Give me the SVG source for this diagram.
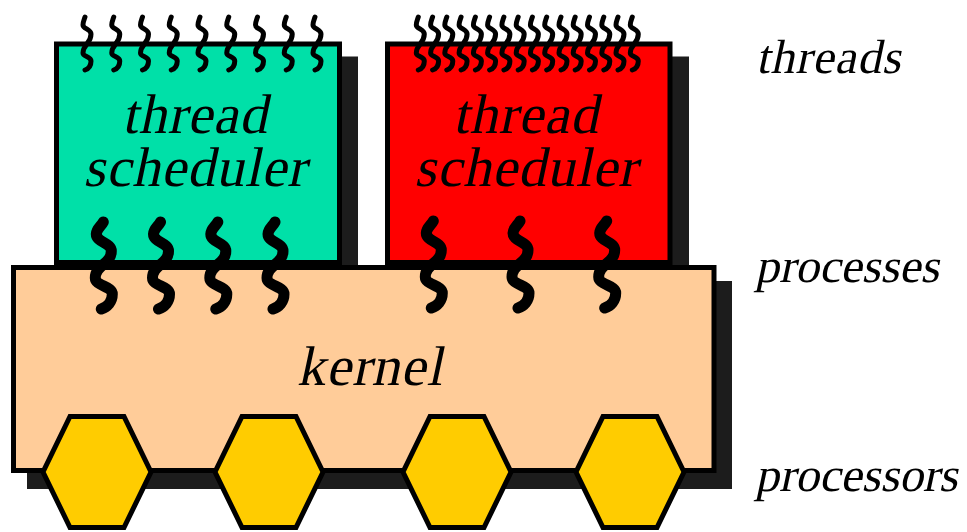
<svg xmlns="http://www.w3.org/2000/svg" width="967" height="532" viewBox="0 0 967 532">
<defs>
<path id="sSmall" d="M0,0 C-1,3 -2,5 -2,8 C-2,12 6,12 6,17 C6,27 -2,27 -2,36 C-2,40 6,39 6,44 C6,49 3,52 0,53" fill="none" stroke="#000" stroke-width="5" stroke-linecap="round"/>
<path id="sBig" d="M0,0 C-2,4 -7,7 -7,12 C-7,20.5 8,20.5 8,29 C8,42.5 -8,42.5 -8,56 C-8,64 9,64 9,72 C9,80 4,85 -2,87" fill="none" stroke="#000" stroke-width="11" stroke-linecap="round"/>
<polygon id="hexShape" points="-27,-55.5 27,-55.5 54,0 27,55.5 -27,55.5 -54,0" fill="#ffcc00" stroke="#000" stroke-width="5"/>
</defs>
<rect width="967" height="532" fill="#fff"/>
<g id="green-scheduler">
<rect x="70" y="56.5" width="288" height="224.5" fill="#1c1c1c"/>
<rect x="56.5" y="44" width="283" height="218.5" fill="#00e0a8" stroke="#000" stroke-width="5"/>
<text transform="translate(195,133) skewX(-12)" x="0" y="0" font-family="'Liberation Serif', Tinos, 'Times New Roman', serif" font-size="56" letter-spacing="1" text-anchor="middle">thread</text>
<text transform="translate(195,186) skewX(-12)" x="0" y="0" font-family="'Liberation Serif', Tinos, 'Times New Roman', serif" font-size="56" letter-spacing="1" text-anchor="middle">scheduler</text>
</g>
<g id="red-scheduler">
<rect x="401" y="56.5" width="288" height="224.5" fill="#1c1c1c"/>
<rect x="387.5" y="44" width="282.5" height="218.5" fill="#ff0000" stroke="#000" stroke-width="5"/>
<text transform="translate(526,133) skewX(-12)" x="0" y="0" font-family="'Liberation Serif', Tinos, 'Times New Roman', serif" font-size="56" letter-spacing="1" text-anchor="middle">thread</text>
<text transform="translate(526,186) skewX(-12)" x="0" y="0" font-family="'Liberation Serif', Tinos, 'Times New Roman', serif" font-size="56" letter-spacing="1" text-anchor="middle">scheduler</text>
</g>
<g id="kernel">
<rect x="27" y="281" width="705" height="208" fill="#1c1c1c"/>
<rect x="13.5" y="267.5" width="700.5" height="203" fill="#ffcc99" stroke="#000" stroke-width="5"/>
<text transform="translate(370,385) skewX(-12)" x="0" y="0" font-family="'Liberation Serif', Tinos, 'Times New Roman', serif" font-size="56" letter-spacing="1" text-anchor="middle">kernel</text>
</g>
<g id="processor-1"><use href="#hexShape" x="97" y="472"/></g>
<g id="processor-2"><use href="#hexShape" x="269" y="472"/></g>
<g id="processor-3"><use href="#hexShape" x="457" y="472"/></g>
<g id="processor-4"><use href="#hexShape" x="630" y="472"/></g>
<g id="threads">
<use href="#sSmall" x="85" y="17"/>
<use href="#sSmall" x="113.75" y="17"/>
<use href="#sSmall" x="142.5" y="17"/>
<use href="#sSmall" x="171.25" y="17"/>
<use href="#sSmall" x="200" y="17"/>
<use href="#sSmall" x="228.75" y="17"/>
<use href="#sSmall" x="257.5" y="17"/>
<use href="#sSmall" x="286.25" y="17"/>
<use href="#sSmall" x="315" y="17"/>
<use href="#sSmall" x="418.3" y="17"/>
<use href="#sSmall" x="432.6" y="17"/>
<use href="#sSmall" x="446.8" y="17"/>
<use href="#sSmall" x="461.1" y="17"/>
<use href="#sSmall" x="475.4" y="17"/>
<use href="#sSmall" x="489.6" y="17"/>
<use href="#sSmall" x="503.9" y="17"/>
<use href="#sSmall" x="518.2" y="17"/>
<use href="#sSmall" x="532.4" y="17"/>
<use href="#sSmall" x="546.7" y="17"/>
<use href="#sSmall" x="561" y="17"/>
<use href="#sSmall" x="575.2" y="17"/>
<use href="#sSmall" x="589.5" y="17"/>
<use href="#sSmall" x="603.8" y="17"/>
<use href="#sSmall" x="618" y="17"/>
<use href="#sSmall" x="632.3" y="17"/>
<use href="#sBig" x="103.3" y="222"/>
<use href="#sBig" x="160.5" y="222"/>
<use href="#sBig" x="217.8" y="222"/>
<use href="#sBig" x="275" y="222"/>
<use href="#sBig" x="433.3" y="221"/>
<use href="#sBig" x="520" y="221"/>
<use href="#sBig" x="606.7" y="221"/>
</g>
<g id="labels">
<text transform="translate(756,73) skewX(-12)" x="0" y="0" font-family="'Liberation Serif', Tinos, 'Times New Roman', serif" font-size="48" letter-spacing="1">threads</text>
<text transform="translate(755,282) skewX(-12)" x="0" y="0" font-family="'Liberation Serif', Tinos, 'Times New Roman', serif" font-size="48">processes</text>
<text transform="translate(755,491) skewX(-12)" x="0" y="0" font-family="'Liberation Serif', Tinos, 'Times New Roman', serif" font-size="48">processors</text>
</g>
</svg>
